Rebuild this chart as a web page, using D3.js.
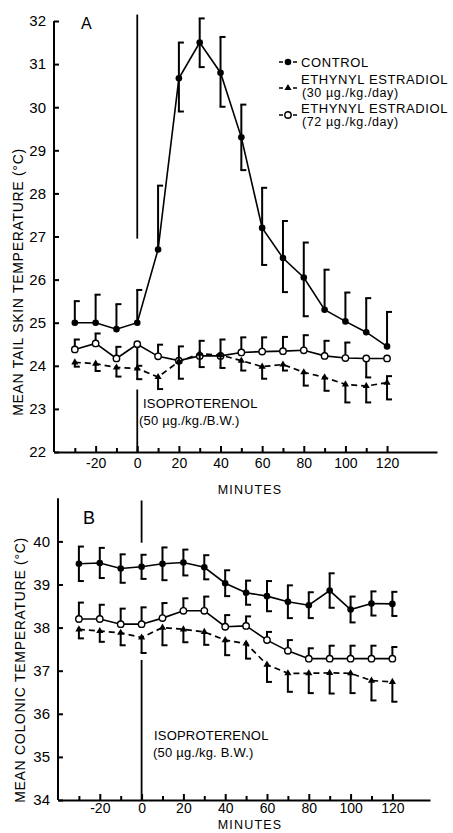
<!DOCTYPE html>
<html>
<head>
<meta charset="utf-8">
<script src="https://cdn.jsdelivr.net/npm/d3@7"></script>
<style>
  body { margin: 0; background: #fff; }
  svg { display: block; font-family: "Liberation Sans", Arial, sans-serif; }
  .axis path, .axis line { stroke: #000; stroke-width: 2; }
  .axis text { fill: #000; font-family: "Liberation Sans", Arial, sans-serif; }
</style>
</head>
<body>
<svg width="453" height="833"></svg>
<script>
// minuten rond de injectie
var minutes = [-30, -20, -10, 0, 10, 20, 30, 40, 50, 60, 70, 80, 90, 100, 110, 120];

// A: staarthuid temperatuur
var tailControl     = [25.0, 25.0, 24.85, 25.0, 26.7, 30.67, 31.5, 30.8, 29.3, 27.2, 26.5, 26.05, 25.3, 25.03, 24.78, 24.45];
var tailControlUp   = [0.5, 0.65, 0.58, 0.76, 1.48, 0.83, 0.56, 0.83, 0.76, 0.93, 0.86, 0.81, 0.93, 0.67, 0.79, 0.8];
var tailControlDown = [0, 0, 0, 0, 0, 0.77, 0.57, 0.79, 0.76, 0.86, 0.79, 0.9, 0, 0, 0, 0];
var tailEE30        = [24.08, 24.05, 23.96, 23.94, 23.74, 24.1, 24.28, 24.25, 24.12, 23.98, 24.03, 23.85, 23.73, 23.57, 23.53, 23.61];
var tailEE30Up      = [0, 0, 0, 0, 0, 0, 0, 0, 0, 0, 0, 0, 0, 0, 0, 0.15];
var tailEE30Down    = [0.1, 0.17, 0.21, 0.25, 0.28, 0.4, 0.31, 0.3, 0.23, 0.28, 0.14, 0.31, 0.31, 0.42, 0.38, 0.39];
var tailEE72        = [24.38, 24.52, 24.17, 24.5, 24.22, 24.12, 24.23, 24.23, 24.31, 24.33, 24.34, 24.36, 24.23, 24.18, 24.17, 24.17];
var tailEE72Up      = [0.23, 0.23, 0.27, 0, 0.27, 0.33, 0.35, 0.38, 0.35, 0.33, 0.33, 0.35, 0.35, 0.36, 0, 0];
var tailEE72Down    = [0, 0, 0, 0.5, 0, 0, 0, 0, 0, 0, 0, 0, 0, 0, 0.44, 0];

// B: colon temperatuur
var colControl      = [39.48, 39.5, 39.37, 39.41, 39.48, 39.51, 39.4, 39.03, 38.81, 38.73, 38.6, 38.52, 38.86, 38.42, 38.56, 38.55];
var colControlErr   = [0.4, 0.35, 0.33, 0.28, 0.38, 0.3, 0.28, 0.3, 0.28, 0.35, 0.38, 0.3, 0.4, 0.3, 0.28, 0.28];
var colEE30         = [37.96, 37.92, 37.88, 37.77, 38.0, 37.96, 37.9, 37.71, 37.63, 37.14, 36.94, 36.94, 36.95, 36.94, 36.77, 36.74];
var colEE30Down     = [0.21, 0.25, 0.29, 0.36, 0.41, 0.3, 0.3, 0.35, 0.35, 0.4, 0.43, 0.46, 0.48, 0.46, 0.46, 0.46];
var colEE72         = [38.2, 38.2, 38.08, 38.08, 38.22, 38.39, 38.39, 38.02, 38.04, 37.71, 37.46, 37.28, 37.28, 37.28, 37.28, 37.28];
var colEE72Up       = [0.38, 0.33, 0.36, 0.39, 0.35, 0.29, 0.33, 0.27, 0.22, 0.19, 0.25, 0.24, 0.3, 0.3, 0.3, 0.27];

var tailTicks = [22, 23, 24, 25, 26, 27, 28, 29, 30, 31, 32];
var colTicks = [34, 35, 36, 37, 38, 39, 40];
var majorMinutes = [-20, 0, 20, 40, 60, 80, 100, 120];
var minorMinutes = [-30, -10, 10, 30, 50, 70, 90, 110];

var svg = d3.select("svg");

// panelen: schalen per paneel
var panels = [
  {
    letter: "A", letterPos: [81, 29],
    x: d3.scaleLinear().domain([-40, 144]).range([54, 437]),
    y: d3.scaleLinear().domain([22, 32]).range([452, 21]),
    yTicks: tailTicks, yTop: 32, xPad: 6,
    title: "MEAN TAIL SKIN TEMPERATURE (°C)", titleX: 18, titleY: 282,
    injection: [[32.15, 26.95], [23.45, 22]],
    note: ["ISOPROTERENOL", "(50 \u00b5g./kg./B.W.)"], notePos: [[143, 408], [139, 425]],
    minutesY: 494,
    series: [
      { v: tailControl, up: tailControlUp, down: tailControlDown, kind: "control" },
      { v: tailEE72, up: tailEE72Up, down: tailEE72Down, kind: "ee72" },
      { v: tailEE30, up: tailEE30Up, down: tailEE30Down, kind: "ee30" }
    ]
  },
  {
    letter: "B", letterPos: [83, 524],
    x: d3.scaleLinear().domain([-40, 138]).range([58, 430]),
    y: d3.scaleLinear().domain([34, 41]).range([800, 498.3]),
    yTicks: colTicks, yTop: 41, xPad: 3,
    title: "MEAN COLONIC TEMPERATURE (°C)", titleX: 20, titleY: 670,
    injection: [[40.95, 39.97], [37.25, 34]],
    note: ["ISOPROTERENOL", "(50 \u00b5g./kg. B.W.)"], notePos: [[154, 740], [153, 757]],
    minutesY: 829,
    series: [
      { v: colControl, up: colControlErr, down: colControlErr, kind: "control" },
      { v: colEE72, up: colEE72Up, down: minutes.map(function() { return 0; }), kind: "ee72" },
      { v: colEE30, up: minutes.map(function() { return 0; }), down: colEE30Down, kind: "ee30" }
    ]
  }
];

var tri = d3.symbol().type(d3.symbolTriangle).size(22);

function drawMarker(g, kind, cx, cy) {
  if (kind === "control") {
    g.append("circle").attr("cx", cx).attr("cy", cy).attr("r", 3.3).attr("fill", "#000");
  } else if (kind === "ee72") {
    g.append("circle").attr("cx", cx).attr("cy", cy).attr("r", 3.2)
      .attr("fill", "#fff").attr("stroke", "#000").attr("stroke-width", 1.4);
  } else {
    g.append("path").attr("d", tri).attr("transform", "translate(" + cx + "," + cy + ")").attr("fill", "#000");
  }
}

panels.forEach(function(p) {
  var g = svg.append("g");
  var x = p.x, y = p.y;

  // y as, ticks naar binnen
  g.append("g")
    .attr("class", "axis")
    .attr("transform", "translate(" + x.range()[0] + ",0)")
    .call(d3.axisLeft(y).tickValues(p.yTicks).tickSize(-5).tickSizeOuter(0).tickPadding(8).tickFormat(d3.format("d")))
    .call(function(a) { a.select(".domain").attr("d", "M0," + y(y.domain()[0]) + "V" + y(p.yTop)); })
    .selectAll("text").style("font-size", "15px");

  // x as met grote en kleine ticks
  g.append("g")
    .attr("class", "axis")
    .attr("transform", "translate(0," + y.range()[0] + ")")
    .call(d3.axisBottom(x).tickValues(majorMinutes).tickSize(-6).tickSizeOuter(0).tickPadding(p.xPad))
    .selectAll("text").style("font-size", "14px").text(function(d) { return d; });

  g.append("g")
    .attr("class", "axis")
    .attr("transform", "translate(0," + y.range()[0] + ")")
    .call(d3.axisBottom(x).tickValues(minorMinutes).tickSize(-4).tickSizeOuter(0).tickFormat(""))
    .select(".domain").remove();

  g.append("text")
    .attr("transform", "translate(" + p.titleX + "," + p.titleY + ") rotate(-90)")
    .attr("text-anchor", "middle")
    .attr("dy", "0.35em")
    .style("font-size", "14px")
    .style("letter-spacing", "0.7px")
    .text(p.title);

  g.append("text")
    .attr("x", 250).attr("y", p.minutesY)
    .attr("text-anchor", "middle")
    .style("font-size", "12.5px")
    .style("letter-spacing", "1.2px")
    .text("MINUTES");

  g.append("text")
    .attr("x", p.letterPos[0]).attr("y", p.letterPos[1])
    .style("font-size", p.letter === "A" ? "16px" : "18px")
    .text(p.letter);

  // injectie lijn bij 0 minuten
  p.injection.forEach(function(seg) {
    g.append("line")
      .attr("x1", x(0)).attr("x2", x(0))
      .attr("y1", y(seg[0])).attr("y2", y(seg[1]))
      .attr("stroke", "#000").attr("stroke-width", 1.8);
  });

  p.note.forEach(function(t, i) {
    g.append("text")
      .attr("x", p.notePos[i][0]).attr("y", p.notePos[i][1])
      .style("font-size", "13px")
      .style("letter-spacing", "0.2px")
      .text(t);
  });

  // series: lijn, foutbalken, markers
  p.series.forEach(function(s) {
    var pts = minutes.map(function(m, i) { return { m: m, v: s.v[i], up: s.up[i], down: s.down[i] }; });

    g.append("path")
      .datum(pts)
      .attr("fill", "none")
      .attr("stroke", "#000")
      .attr("stroke-width", s.kind === "ee30" ? 1.7 : 1.6)
      .attr("stroke-dasharray", s.kind === "ee30" ? "6,4" : null)
      .attr("d", d3.line().x(function(d) { return x(d.m); }).y(function(d) { return y(d.v); }));

    pts.forEach(function(d) {
      var cx = x(d.m);
      var top = y(d.v + d.up), bot = y(d.v - d.down);
      if (d.up > 0 || d.down > 0) {
        g.append("line").attr("x1", cx).attr("x2", cx).attr("y1", top).attr("y2", bot)
          .attr("stroke", "#000").attr("stroke-width", 2);
      }
      if (d.up > 0) {
        g.append("line").attr("x1", cx - 1).attr("x2", cx + 5).attr("y1", top).attr("y2", top)
          .attr("stroke", "#000").attr("stroke-width", 2);
      }
      if (d.down > 0) {
        g.append("line").attr("x1", cx - 1).attr("x2", cx + 5).attr("y1", bot).attr("y2", bot)
          .attr("stroke", "#000").attr("stroke-width", 2);
      }
    });

    pts.forEach(function(d) { drawMarker(g, s.kind, x(d.m), y(d.v)); });
  });
});

// legenda
var legend = svg.append("g");
var legendItems = [
  { kind: "control", y: 62, lines: ["CONTROL"], ty: [67] },
  { kind: "ee30", y: 88, lines: ["ETHYNYL ESTRADIOL", "(30 \u00b5g./kg./day)"], ty: [84, 97] },
  { kind: "ee72", y: 115, lines: ["ETHYNYL ESTRADIOL", "(72 \u00b5g./kg./day)"], ty: [113, 126] }
];
legendItems.forEach(function(item) {
  legend.append("line").attr("x1", 279).attr("x2", 283).attr("y1", item.y).attr("y2", item.y)
    .attr("stroke", "#000").attr("stroke-width", 1.5);
  legend.append("line").attr("x1", 293).attr("x2", 297).attr("y1", item.y).attr("y2", item.y)
    .attr("stroke", "#000").attr("stroke-width", 1.5);
  drawMarker(legend, item.kind, 288, item.y);
  item.lines.forEach(function(t, i) {
    legend.append("text")
      .attr("x", i === 0 ? 301 : 302).attr("y", item.ty[i])
      .style("font-size", i === 0 ? "13px" : "12.5px")
      .style("letter-spacing", "0.6px")
      .text(t);
  });
});
</script>
</body>
</html>
